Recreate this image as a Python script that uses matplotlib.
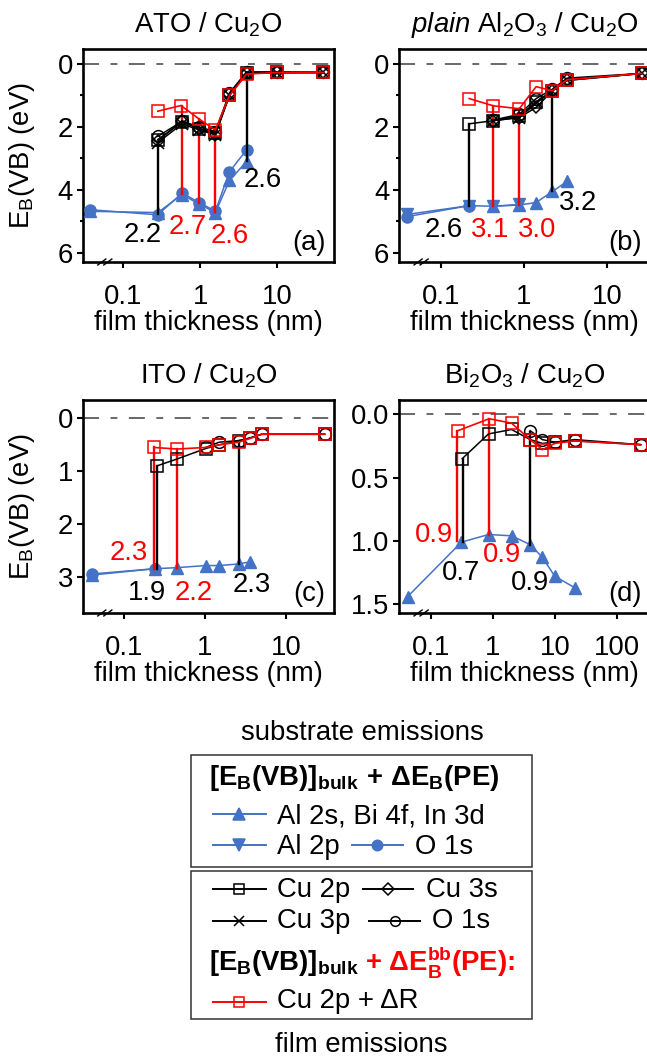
import numpy as np
import matplotlib
matplotlib.use('Agg')
import matplotlib.pyplot as plt
from matplotlib.lines import Line2D
from matplotlib.patches import Rectangle
from matplotlib.ticker import FixedLocator, NullLocator

plt.rcParams['font.family'] = ['Liberation Sans', 'DejaVu Sans']
plt.rcParams['mathtext.fontset'] = 'custom'
plt.rcParams['mathtext.rm'] = 'Liberation Sans'
plt.rcParams['mathtext.it'] = 'Liberation Sans:italic'
plt.rcParams['mathtext.bf'] = 'Liberation Sans:bold'
plt.rcParams['mathtext.sf'] = 'Liberation Sans'
plt.rcParams['mathtext.default'] = 'regular'

BLUE = '#4472C4'
RED = '#FF0000'
FS = 19.8

# ---------------- panel (a): ATO / Cu2O ----------------
a_sub_x = [0.037, 0.28, 0.58, 0.97, 1.57, 2.4, 4.0]
a_sub_tri = [4.68, 4.72, 4.15, 4.45, 4.72, 3.70, 3.10]
a_sub_o1s = [4.63, 4.79, 4.10, 4.40, 4.68, 3.42, 2.73]
a_film_x = [0.28, 0.58, 0.97, 1.57, 2.4, 4.0, 10, 40]
a_cu2p = [2.40, 1.85, 2.05, 2.20, 1.00, 0.30, 0.27, 0.27]
a_cu3s = [2.45, 1.80, 2.05, 2.25, 0.95, 0.28, 0.27, 0.27]
a_cu3p = [2.50, 1.90, 2.10, 2.25, 1.00, 0.30, 0.28, 0.27]
a_o1s = [2.30, 1.82, 2.00, 2.15, 0.92, 0.25, 0.25, 0.27]
a_red_x = [0.28, 0.56, 0.97, 1.57, 2.4, 4.0, 10, 40]
a_red = [1.50, 1.32, 1.75, 2.10, 1.00, 0.32, 0.27, 0.27]
a_v_x = [0.28, 0.58, 0.97, 1.57, 4.0]
a_v_top = [2.50, 1.32, 1.75, 2.10, 0.30]
a_v_bot = [4.75, 4.12, 4.42, 4.70, 3.08]
a_v_col = ['k', 'r', 'r', 'r', 'k']
a_lab_txt = ['2.2', '2.7', '2.6', '2.6']
a_lab_x = [0.18, 0.68, 2.4, 6.6]
a_lab_y = [5.43, 5.17, 5.45, 3.70]
a_lab_col = ['k', 'r', 'r', 'k']

# ---------------- panel (b): plain Al2O3 / Cu2O ----------------
b_tri_x = [0.43, 0.88, 1.4, 2.2, 3.3]
b_tri = [4.52, 4.48, 4.40, 4.05, 3.73]
b_dtri_x = [0.039, 0.22, 0.43, 0.88]
b_dtri = [4.78, 4.50, 4.52, 4.46]
b_so1s_x = [0.039, 0.22]
b_so1s = [4.85, 4.50]
b_film_x = [0.22, 0.43, 0.88, 1.4, 2.2, 3.3, 26]
b_cu2p = [1.90, 1.80, 1.65, 1.20, 0.85, 0.52, 0.30]
b_cu3s = [np.nan, 1.80, 1.70, 1.38, 0.85, 0.50, 0.30]
b_cu3p = [np.nan, 1.80, 1.70, 1.25, 0.85, 0.52, 0.30]
b_o1s = [np.nan, 1.78, 1.60, 1.10, 0.80, 0.45, 0.30]
b_red_x = [0.22, 0.43, 0.88, 1.4, 2.2, 3.3, 26]
b_red = [1.10, 1.33, 1.42, 0.72, 0.85, 0.50, 0.30]
b_v_x = [0.22, 0.43, 0.88, 2.2]
b_v_top = [1.90, 1.33, 1.42, 0.85]
b_v_bot = [4.50, 4.52, 4.48, 4.05]
b_v_col = ['k', 'r', 'r', 'k']
b_lab_txt = ['2.6', '3.1', '3.0', '3.2']
b_lab_x = [0.11, 0.39, 1.43, 4.5]
b_lab_y = [5.27, 5.27, 5.27, 4.40]
b_lab_col = ['k', 'r', 'r', 'k']

# ---------------- panel (c): ITO / Cu2O ----------------
c_tri_x = [0.04, 0.24, 0.45, 1.02, 1.5, 2.6, 3.6]
c_tri = [2.97, 2.85, 2.83, 2.79, 2.79, 2.76, 2.72]
c_so1s_x = [0.04, 0.24]
c_so1s = [2.95, 2.85]
c_film_x = [0.255, 0.45, 1.02, 1.5, 2.6, 3.6, 5.0, 30]
c_cu2p = [0.90, 0.77, 0.57, 0.50, 0.43, 0.37, 0.30, 0.30]
c_o1s = [np.nan, np.nan, 0.55, 0.45, 0.42, 0.37, 0.30, 0.30]
c_red_x = [0.235, 0.45, 1.02, 1.5, 2.6, 3.6, 5.0, 30]
c_red = [0.55, 0.58, 0.55, 0.50, 0.45, 0.38, 0.30, 0.30]
c_v_x = [0.235, 0.258, 0.45, 2.6]
c_v_top = [0.55, 0.90, 0.58, 0.43]
c_v_bot = [2.85, 2.85, 2.83, 2.76]
c_v_col = ['r', 'k', 'r', 'k']
c_lab_txt = ['2.3', '1.9', '2.2', '2.3']
c_lab_x = [0.115, 0.19, 0.72, 3.8]
c_lab_y = [2.56, 3.31, 3.31, 3.16]
c_lab_col = ['r', 'k', 'r', 'k']

# ---------------- panel (d): Bi2O3 / Cu2O ----------------
d_tri_x = [0.042, 0.31, 0.85, 2.0, 4.0, 6.3, 10, 21]
d_tri = [1.44, 1.01, 0.95, 0.96, 1.03, 1.13, 1.28, 1.37]
d_film_x = [0.32, 0.85, 2.0, 4.0, 6.3, 10, 21, 244]
d_cu2p = [0.35, 0.155, 0.12, 0.20, 0.23, 0.22, 0.21, 0.24]
d_o1s = [np.nan, np.nan, np.nan, 0.13, 0.20, 0.22, 0.20, 0.24]
d_red_x = [0.27, 0.87, 2.0, 4.0, 6.3, 10, 21, 244]
d_red = [0.13, 0.035, 0.07, 0.20, 0.28, 0.23, 0.21, 0.24]
d_v_x = [0.26, 0.325, 0.86, 4.0]
d_v_top = [0.13, 0.35, 0.035, 0.14]
d_v_bot = [1.00, 1.01, 0.95, 1.03]
d_v_col = ['r', 'k', 'r', 'k']
d_lab_txt = ['0.9', '0.7', '0.9', '0.9']
d_lab_x = [0.11, 0.30, 1.4, 4.0]
d_lab_y = [0.95, 1.25, 1.11, 1.33]
d_lab_col = ['r', 'k', 'r', 'k']

W, H = 647, 1060
fig = plt.figure(figsize=(W / 100, H / 100), dpi=100)


def axpos(l, t, r, b):
    return [l / W, 1 - b / H, (r - l) / W, (b - t) / H]


def style(ax, xlim, ylim, yticks, ylabels, xticks, xlabels, yminor=None):
    ax.set_xscale('log')
    ax.set_xlim(*xlim)
    ax.set_ylim(*ylim)
    ax.xaxis.set_major_locator(FixedLocator(xticks))
    ax.xaxis.set_minor_locator(NullLocator())
    ax.set_xticklabels(xlabels)
    ax.set_yticks(yticks)
    ax.set_yticklabels(ylabels)
    if yminor is not None:
        ax.yaxis.set_minor_locator(FixedLocator(yminor))
    for s in ax.spines.values():
        s.set_linewidth(1.9)
    ax.tick_params(axis='both', which='major', direction='out', length=4,
                   width=1.5, labelsize=FS)
    ax.tick_params(axis='x', which='major', pad=12)
    ax.tick_params(axis='y', which='major', pad=3)
    ax.tick_params(axis='y', which='minor', direction='out', length=2.5, width=1.5)
    ax.axhline(0, color='#404040', lw=1.1, ls=(0, (10.5, 7.5, 4.5, 7.5)), zorder=1)
    ax.set_xlabel('film thickness (nm)', fontsize=FS, labelpad=0)
    # axis break marks
    for x0 in (0.060, 0.084):
        ax.plot([x0, x0 + 0.032], [-0.014, 0.014], color='k', lw=1.0,
                transform=ax.transAxes, clip_on=False, zorder=5)


def blue(ax, x, y, m, ms):
    ax.plot(x, y, color=BLUE, lw=1.1, marker=m, ms=ms, mfc=BLUE, mec=BLUE, zorder=3)


def film(ax, x, y, m, ms, color='k', lw=1.1):
    ax.plot(x, y, color=color, lw=lw, marker=m, ms=ms, mfc='none', mec=color,
            mew=1.1, zorder=4)


def verticals(ax, vx, vt, vb, vc):
    for x, t, b, c in zip(vx, vt, vb, vc):
        ax.plot([x, x], [t, b], color=('#FF0000' if c == 'r' else 'k'), lw=1.7, zorder=3.5)


def labels(ax, txt, lx, ly, lc, letter):
    for t, x, y, c in zip(txt, lx, ly, lc):
        ax.text(x, y, t, fontsize=FS, ha='center', va='center',
                color=('#FF0000' if c == 'r' else 'k'))
    ax.text(0.966, 0.09, letter, fontsize=FS, ha='right', va='center', transform=ax.transAxes)


# ---- (a)
ax = fig.add_axes(axpos(82.7, 49, 334, 262))
style(ax, (0.0295, 55), (6.29, -0.476), [0, 2, 4, 6], ['0', '2', '4', '6'],
      [0.1, 1, 10], ['0.1', '1', '10'], yminor=[1, 3, 5])
blue(ax, a_sub_x, a_sub_tri, '^', 8)
blue(ax, a_sub_x, a_sub_o1s, 'o', 8)
verticals(ax, a_v_x, a_v_top, a_v_bot, a_v_col)
film(ax, a_film_x, a_cu2p, 's', 8.5)
film(ax, a_film_x, a_cu3s, 'D', 6.5)
film(ax, a_film_x, a_cu3p, 'x', 8)
film(ax, a_film_x, a_o1s, 'o', 8.5)
film(ax, a_red_x, a_red, 's', 8.5, color=RED, lw=1.2)
labels(ax, a_lab_txt, a_lab_x, a_lab_y, a_lab_col, '(a)')
ax.set_title('ATO / Cu$_2$O', fontsize=FS, pad=12)
ax.set_ylabel('E$_B$(VB) (eV)', fontsize=FS)
ax.yaxis.set_label_coords(-0.18, 0.5)

# ---- (b)
ax = fig.add_axes(axpos(399, 49, 650.3, 262))
style(ax, (0.0315, 33), (6.29, -0.476), [0, 2, 4, 6], ['0', '2', '4', '6'],
      [0.1, 1, 10], ['0.1', '1', '10'], yminor=[1, 3, 5])
blue(ax, b_so1s_x, b_so1s, 'o', 8)
blue(ax, b_dtri_x, b_dtri, 'v', 8)
blue(ax, b_tri_x, b_tri, '^', 8)
verticals(ax, b_v_x, b_v_top, b_v_bot, b_v_col)
film(ax, b_film_x, b_cu2p, 's', 8.5)
film(ax, b_film_x, b_cu3s, 'D', 6.5)
film(ax, b_film_x, b_cu3p, 'x', 8)
film(ax, b_film_x, b_o1s, 'o', 8.5)
film(ax, b_red_x, b_red, 's', 8.5, color=RED, lw=1.2)
labels(ax, b_lab_txt, b_lab_x, b_lab_y, b_lab_col, '(b)')
ax.set_title(r'$\mathit{plain}$ Al$_2$O$_3$ / Cu$_2$O', fontsize=FS, pad=12)

# ---- (c)
ax = fig.add_axes(axpos(82.7, 400, 334, 613))
style(ax, (0.0309, 39.2), (3.69, -0.35), [0, 1, 2, 3], ['0', '1', '2', '3'],
      [0.1, 1, 10], ['0.1', '1', '10'])
blue(ax, c_so1s_x, c_so1s, 'o', 8)
blue(ax, c_tri_x, c_tri, '^', 8)
verticals(ax, c_v_x, c_v_top, c_v_bot, c_v_col)
film(ax, c_film_x, c_cu2p, 's', 8.5)
film(ax, c_film_x, c_o1s, 'o', 8.5)
film(ax, c_red_x, c_red, 's', 8.5, color=RED, lw=1.2)
labels(ax, c_lab_txt, c_lab_x, c_lab_y, c_lab_col, '(c)')
ax.set_title('ITO / Cu$_2$O', fontsize=FS, pad=12)
ax.set_ylabel('E$_B$(VB) (eV)', fontsize=FS)
ax.yaxis.set_label_coords(-0.18, 0.5)

# ---- (d)
ax = fig.add_axes(axpos(399, 400, 650.3, 613))
style(ax, (0.0304, 349), (1.57, -0.113), [0, 0.5, 1.0, 1.5], ['0.0', '0.5', '1.0', '1.5'],
      [0.1, 1, 10, 100], ['0.1', '1', '10', '100'])
blue(ax, d_tri_x, d_tri, '^', 8)
verticals(ax, d_v_x, d_v_top, d_v_bot, d_v_col)
film(ax, d_film_x, d_cu2p, 's', 8.5)
film(ax, d_film_x, d_o1s, 'o', 8.5)
film(ax, d_red_x, d_red, 's', 8.5, color=RED, lw=1.2)
labels(ax, d_lab_txt, d_lab_x, d_lab_y, d_lab_col, '(d)')
ax.set_title('Bi$_2$O$_3$ / Cu$_2$O', fontsize=FS, pad=12)

# ---------------- legend (drawn in figure pixels) ----------------
def fx(x):
    return x / W


def fy(y):
    return 1 - y / H


def leg_line(x1, x2, y, color, marker, ms, mfc):
    fig.add_artist(Line2D([fx(x1), fx(x2)], [fy(y), fy(y)], transform=fig.transFigure,
                          color=color, lw=1.4))
    fig.add_artist(Line2D([fx((x1 + x2) / 2)], [fy(y)], transform=fig.transFigure,
                          linestyle='none', marker=marker, ms=ms, mfc=mfc, mec=color,
                          mew=1.1))


def ftext(x, y, s, **kw):
    fig.text(fx(x), fy(y), s, fontsize=FS, **kw)


fig.add_artist(Rectangle((fx(191), fy(866.7)), fx(532) - fx(191), fy(755) - fy(866.7),
                         transform=fig.transFigure, fill=False, ec='#333333', lw=1.1))
fig.add_artist(Rectangle((fx(191), fy(1019)), fx(532) - fx(191), fy(871) - fy(1019),
                         transform=fig.transFigure, fill=False, ec='#333333', lw=1.1))

ftext(362, 740, 'substrate emissions', ha='center', va='baseline')
ftext(361, 1052, 'film emissions', ha='center', va='baseline')

ftext(209, 785, r'$\mathbf{[E_B(VB)]_{bulk}\,+\,ΔE_B(PE)}$', ha='left', va='baseline')
leg_line(213, 266, 814, BLUE, '^', 8, BLUE)
ftext(277, 823.3, 'Al 2s, Bi 4f, In 3d', ha='left', va='baseline')
leg_line(213, 266, 845, BLUE, 'v', 8, BLUE)
ftext(277, 854, 'Al 2p', ha='left', va='baseline')
leg_line(351.7, 402.7, 845, BLUE, 'o', 7.5, BLUE)
ftext(415, 854, 'O 1s', ha='left', va='baseline')

leg_line(213, 266, 889.3, 'k', 's', 7.5, 'none')
ftext(277, 896.7, 'Cu 2p', ha='left', va='baseline')
leg_line(362.7, 413.3, 889.3, 'k', 'D', 6, 'none')
ftext(426, 896.7, 'Cu 3s', ha='left', va='baseline')
leg_line(213, 266, 920.7, 'k', 'x', 7.5, 'none')
ftext(277, 927.5, 'Cu 3p', ha='left', va='baseline')
leg_line(369.3, 420, 920.7, 'k', 'o', 7, 'none')
ftext(431.7, 927.5, 'O 1s', ha='left', va='baseline')

ftext(209, 970, r'$\mathbf{[E_B(VB)]_{bulk}}$', ha='left', va='baseline')
ftext(365, 970, r'$\mathbf{+\ ΔE_B^{bb}(PE)}$:', ha='left', va='baseline',
      color=RED, fontweight='bold')
leg_line(213, 266, 1001.7, RED, 's', 7.5, 'none')
ftext(277, 1008.3, 'Cu 2p + ΔR', ha='left', va='baseline')

fig.savefig('out.png', dpi=100)
